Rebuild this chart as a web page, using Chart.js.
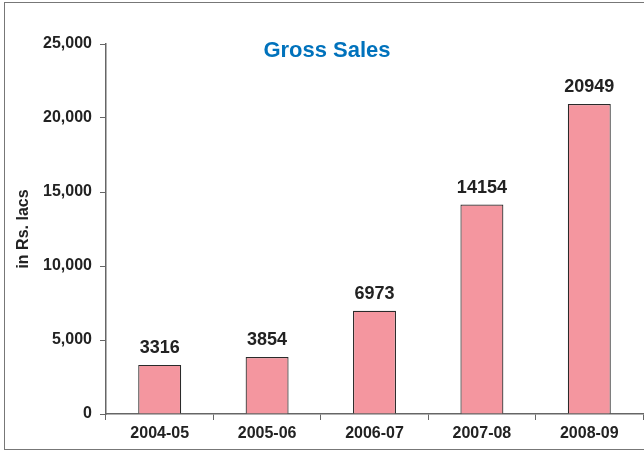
<!DOCTYPE html>
<html>
<head>
    <title>Gross Sales</title>
    <script src="https://cdn.jsdelivr.net/npm/chart.js"></script>
    <style>
        html, body { margin: 0; padding: 0; background: #fff; overflow: hidden; }
        .frame {
            position: absolute; left: 4px; top: 2px;
            width: 700px; height: 446px;
            border: 1.5px solid #777;
        }
        .wrap { position: absolute; left: 0; top: 0; width: 644px; height: 453px; }
    </style>
</head>
<body>
    <div class="frame"></div>
    <div class="wrap"><canvas id="salesChart" width="644" height="453"></canvas></div>

<script>
    // data
    const years = ['2004-05', '2005-06', '2006-07', '2007-08', '2008-09'];
    const grossSales = [3316, 3854, 6973, 14154, 20949];
    const yTicks = [0, 5000, 10000, 15000, 20000, 25000];

    const font = 'Liberation Sans, Arial, Helvetica, sans-serif';

    // value labels above bars + the title inside the plot area
    const labelPlugin = {
        id: 'labels',
        afterDatasetsDraw(chart) {
            const ctx = chart.ctx;
            const meta = chart.getDatasetMeta(0);
            ctx.save();
            ctx.fillStyle = '#222';
            ctx.font = 'bold 18px ' + font;
            ctx.textAlign = 'center';
            ctx.textBaseline = 'alphabetic';
            meta.data.forEach((bar, i) => {
                ctx.fillText(String(grossSales[i]), bar.x, bar.y - 12);
            });
            ctx.fillStyle = '#0072bc';
            ctx.font = 'bold 22px ' + font;
            ctx.textBaseline = 'middle';
            ctx.fillText('Gross Sales', 327, 51);
            ctx.restore();
        }
    };

    const ctx = document.getElementById('salesChart').getContext('2d');
    new Chart(ctx, {
        type: 'bar',
        data: {
            labels: years,
            datasets: [{
                data: grossSales,
                backgroundColor: '#f4969f',
                borderColor: '#2a2a2a',
                borderWidth: 1.2,
                barPercentage: 0.4,
                categoryPercentage: 1
            }]
        },
        options: {
            responsive: false,
            animation: false,
            layout: { padding: { left: 14, right: 1, top: 44, bottom: 0 } },
            plugins: { legend: { display: false }, tooltip: { enabled: false } },
            scales: {
                x: {
                    grid: { drawOnChartArea: false, tickLength: 6, color: '#666', offset: true },
                    border: { color: '#666', width: 1.5 },
                    ticks: { color: '#222', font: { family: font, size: 16, weight: 'bold' }, padding: 4 },
                    afterFit(scale) { scale.height = 39; }
                },
                y: {
                    min: 0,
                    max: 25000,
                    afterBuildTicks(scale) { scale.ticks = yTicks.map(v => ({ value: v })); },
                    grid: { drawOnChartArea: false, tickLength: 6, color: '#666' },
                    border: { color: '#666', width: 1.5 },
                    ticks: {
                        color: '#222',
                        font: { family: font, size: 16, weight: 'bold' },
                        padding: 8,
                        callback: v => v.toLocaleString('en-US')
                    },
                    title: {
                        display: true,
                        text: 'in Rs. lacs',
                        color: '#222',
                        font: { family: font, size: 16, weight: 'bold' },
                        padding: { top: 0, bottom: 0 }
                    },
                    afterFit(scale) { scale.width = 92; }
                }
            }
        },
        plugins: [labelPlugin]
    });
</script>
</body>
</html>
